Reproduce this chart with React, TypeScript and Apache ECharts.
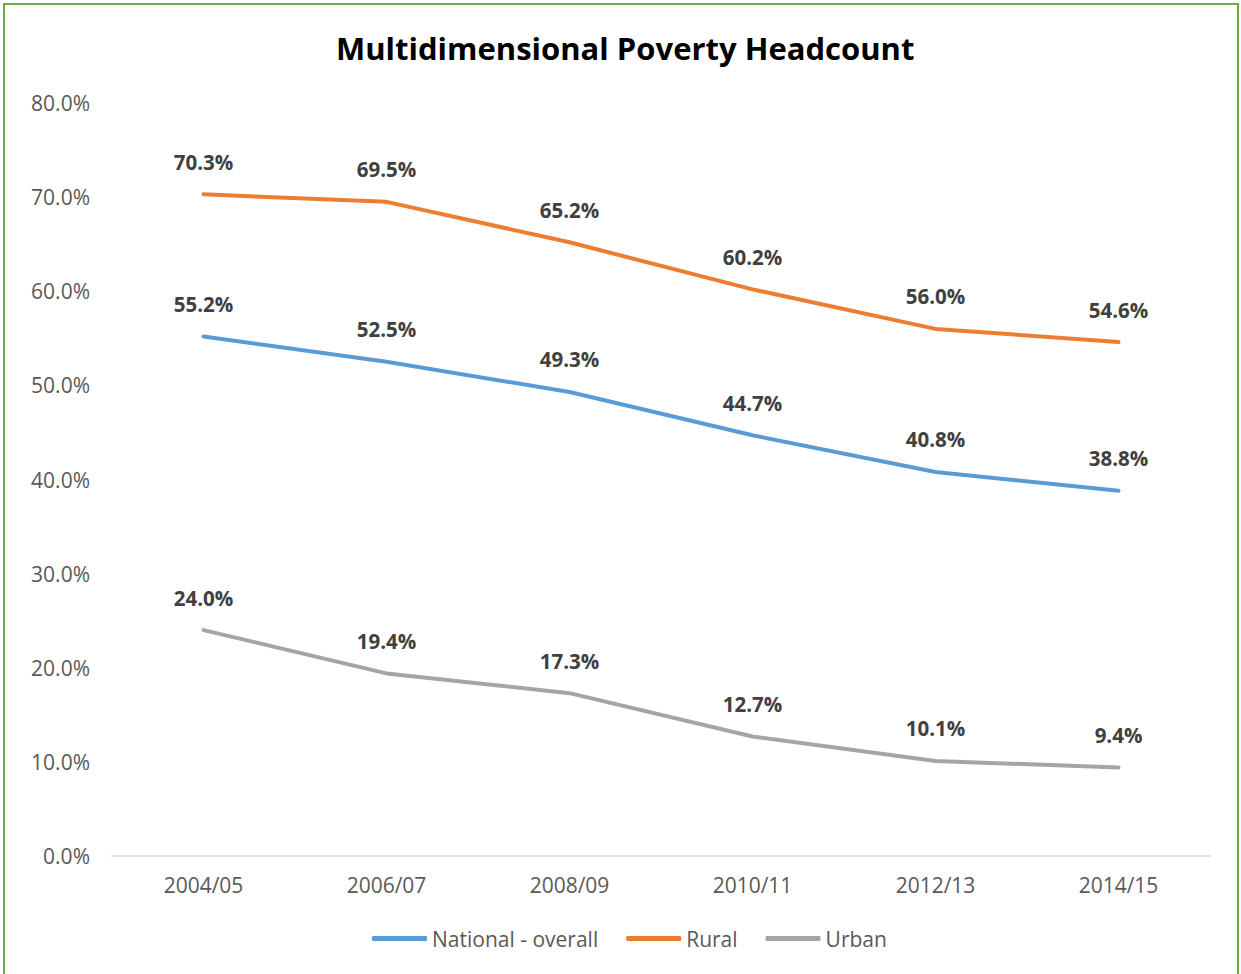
import React, { useEffect, useRef } from "react";
import * as echarts from "echarts";

const categories = ["2004/05", "2006/07", "2008/09", "2010/11", "2012/13", "2014/15"];
const nationalValues = [55.2, 52.5, 49.3, 44.7, 40.8, 38.8];
const ruralValues = [70.3, 69.5, 65.2, 60.2, 56.0, 54.6];
const urbanValues = [24.0, 19.4, 17.3, 12.7, 10.1, 9.4];
const seriesNames = ["National - overall", "Rural", "Urban"];
const seriesColors = ["#5B9BD5", "#ED7D31", "#A5A5A5"];

const FONT = "'Open Sans', 'Noto Sans', sans-serif";

export default function App() {
  const ref = useRef<HTMLDivElement>(null);
  useEffect(() => {
    if (!ref.current) return;
    const chart = echarts.init(ref.current, null, { renderer: "svg" });
    const datasets = [nationalValues, ruralValues, urbanValues];
    chart.setOption({
      animation: false,
      backgroundColor: "#FFFFFF",
      title: {
        text: "Multidimensional Poverty Headcount",
        left: 331,
        top: 27,
        textStyle: { fontFamily: FONT, fontWeight: "bold", fontSize: 31, color: "#000000" },
      },
      graphic: [
        {
          type: "rect",
          shape: { x: 4, y: 4, width: 1234, height: 990 },
          style: { fill: "none", stroke: "#70AD47", lineWidth: 2 },
          silent: true,
        },
      ],
      legend: {
        bottom: 20,
        left: 367,
        itemWidth: 55,
        itemHeight: 5,
        itemGap: 28,
        textStyle: { fontFamily: FONT, fontSize: 21, color: "#595959", padding: [0, 0, 0, 0] },
        data: seriesNames.map((n, i) => ({
          name: n,
          icon: "roundRect",
          itemStyle: { color: seriesColors[i], opacity: 1 },
        })),
      },
      grid: { left: 112, right: 31, top: 103, bottom: 118, containLabel: false },
      xAxis: {
        type: "category",
        data: categories,
        boundaryGap: true,
        axisLine: { lineStyle: { color: "#D9D9D9", width: 1.5 } },
        axisTick: { show: false },
        axisLabel: { fontFamily: FONT, fontSize: 21, color: "#595959", margin: 18 },
      },
      yAxis: {
        type: "value",
        min: 0,
        max: 80,
        interval: 10,
        splitLine: { show: false },
        axisLine: { show: false },
        axisTick: { show: false },
        axisLabel: {
          fontFamily: FONT,
          fontSize: 21,
          color: "#595959",
          margin: 22,
          formatter: (v: number) => v.toFixed(1) + "%",
        },
      },
      series: datasets.map((d, i) => ({
        name: seriesNames[i],
        type: "line",
        data: d,
        symbol: "circle",
        symbolSize: 0,
        showSymbol: true,
        color: seriesColors[i],
        itemStyle: { color: seriesColors[i] },
        lineStyle: { width: 4, color: seriesColors[i], cap: "round" },
        label: {
          show: true,
          position: "top",
          distance: 22,
          fontFamily: FONT,
          fontWeight: "bold",
          fontSize: 20.5,
          color: "#404040",
          formatter: (p: any) => Number(p.value).toFixed(1) + "%",
        },
      })),
    });
    return () => chart.dispose();
  }, []);
  return (
    <div
      ref={ref}
      style={{ position: "absolute", left: 0, top: 0, width: 1241, height: 974 }}
    />
  );
}
